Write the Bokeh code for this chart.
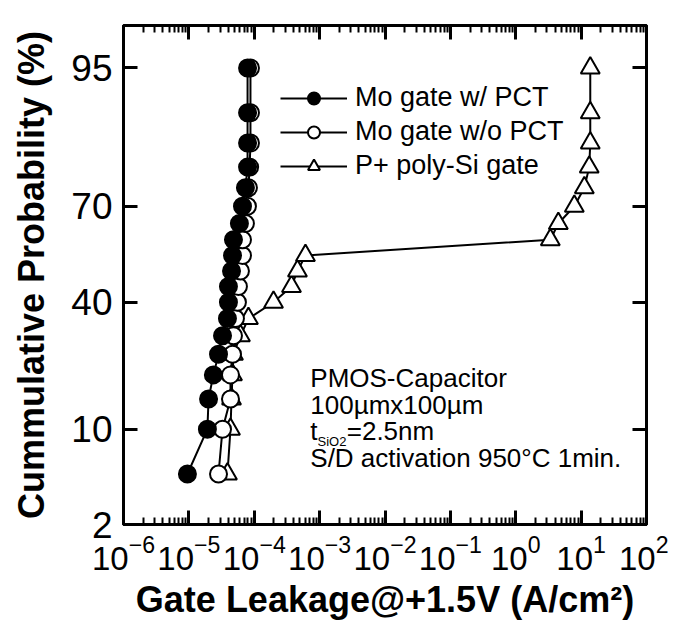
from statistics import NormalDist
from bokeh.plotting import figure
from bokeh.models import (LogAxis, LinearAxis, FixedTicker, Range1d, Legend, LegendItem,
                          Label, CustomJSTickFormatter)
from bokeh.embed import file_html
from bokeh.resources import INLINE

# ---------------- data ----------------
prob = [5, 10, 15, 20, 25, 30, 35, 40, 45, 50, 55, 60, 65, 70, 75, 80, 85, 90, 95]
mo_pct = [9.5e-6, 1.92e-5, 2.0e-5, 2.37e-5, 2.84e-5, 3.27e-5, 3.89e-5, 4.03e-5, 4.03e-5,
          4.49e-5, 4.65e-5, 4.81e-5, 5.93e-5, 6.61e-5, 7.33e-5, 7.9e-5, 7.9e-5, 7.9e-5, 7.9e-5]
mo_nopct = [2.84e-5, 3.27e-5, 4.33e-5, 4.33e-5, 4.65e-5, 4.81e-5, 5.16e-5, 5.53e-5, 5.73e-5,
            6.15e-5, 6.61e-5, 6.61e-5, 7.33e-5, 7.87e-5, 8.15e-5, 8.5e-5, 8.75e-5, 8.75e-5, 8.75e-5]
poly_si = [3.89e-5, 4.33e-5, 4.49e-5, 4.65e-5, 4.81e-5, 6.15e-5, 8.15e-5, 1.97e-4, 3.71e-4,
           4.58e-4, 6.07e-4, 3.38, 4.48, 7.87, 11.2, 13.3, 13.8, 13.8, 13.8]
series_names = ["Mo gate w/ PCT", "Mo gate w/o PCT", "P+ poly-Si gate"]
y_tick_values = [2, 10, 40, 70, 95]
x_decades = [-6, -5, -4, -3, -2, -1, 0, 1, 2]

nd = NormalDist()
def zq(pct):
    return nd.inv_cdf(pct / 100.0)

z = [zq(v) for v in prob]
z_ticks = [zq(v) for v in y_tick_values]
x_major = [10.0 ** d for d in x_decades]
x_minor = [m * 10.0 ** d for d in x_decades[:-1] for m in range(2, 10)]

FONT = "Liberation Sans"

p = figure(width=668, height=622, x_axis_type="log",
           x_range=Range1d(1e-6, 1e2), y_range=Range1d(zq(2), 1.989),
           output_backend="svg", toolbar_location=None,
           min_border_left=123, min_border_right=22, min_border_top=25, min_border_bottom=94)
p.grid.visible = False
p.outline_line_color = "black"
p.outline_line_width = 3
p.background_fill_color = "white"
p.border_fill_color = "white"

xt = FixedTicker(ticks=x_major, minor_ticks=x_minor)
yt = FixedTicker(ticks=z_ticks, minor_ticks=[])
yfmt = CustomJSTickFormatter(args=dict(tv=z_ticks, lab=[str(v) for v in y_tick_values]), code="""
let best = 0, bd = 1e9;
for (let i = 0; i < tv.length; i++) { const d = Math.abs(tv[i] - tick); if (d < bd) { bd = d; best = i; } }
return lab[best];
""")

def style(ax):
    ax.axis_line_width = 3
    ax.major_tick_in = 14
    ax.major_tick_out = 0
    ax.minor_tick_in = 7
    ax.minor_tick_out = 0
    ax.major_tick_line_width = 3
    ax.minor_tick_line_width = 2
    ax.major_label_text_color = "black"
    ax.axis_label_text_color = "black"

xa = p.xaxis[0]
xa.ticker = xt
style(xa)
xa.major_label_text_font = FONT
xa.major_label_text_font_size = "33px"
xa.major_label_standoff = 10
xa.axis_label = "Gate Leakage@+1.5V (A/cm\u00b2)"
xa.axis_label_text_font = FONT
xa.axis_label_text_font_size = "36px"
xa.axis_label_text_font_style = "bold"
xa.axis_label_standoff = 6

ya = p.yaxis[0]
ya.ticker = yt
ya.formatter = yfmt
style(ya)
ya.major_label_text_font = FONT
ya.major_label_text_font_size = "37px"
ya.major_label_standoff = 11
ya.axis_label = "Cummulative Probability (%)"
ya.axis_label_text_font = FONT
ya.axis_label_text_font_size = "36px"
ya.axis_label_text_font_style = "bold"
ya.axis_label_standoff = 16

top = LogAxis(ticker=xt, major_label_text_font_size="1px", major_label_text_alpha=0,
              major_label_standoff=0)
style(top)
p.add_layout(top, "above")
right = LinearAxis(ticker=yt, formatter=yfmt, major_label_text_font_size="1px",
                   major_label_text_alpha=0, major_label_standoff=0)
style(right)
p.add_layout(right, "right")

l1 = p.line(mo_pct, z, line_color="black", line_width=2)
s1 = p.scatter(mo_pct, z, marker="circle", size=17, fill_color="black", line_color="black", line_width=2)
l2 = p.line(mo_nopct, z, line_color="black", line_width=2)
s2 = p.scatter(mo_nopct, z, marker="circle", size=17, fill_color="white", line_color="black", line_width=2)
l3 = p.line(poly_si, z, line_color="black", line_width=2)
s3 = p.scatter(poly_si, z, marker="triangle", size=19, fill_color="white", line_color="black", line_width=2)
p.renderers = [l1, l2, l3, s3, s2, s1]

legend = Legend(items=[LegendItem(label=series_names[0], renderers=[l1, s1]),
                       LegendItem(label=series_names[1], renderers=[l2, s2]),
                       LegendItem(label=series_names[2], renderers=[l3, s3])],
                location=(157, 343), border_line_color=None, background_fill_alpha=0,
                label_text_font=FONT, label_text_font_size="27px", label_text_color="black",
                glyph_width=67, glyph_height=30, label_height=30, spacing=3,
                padding=0, margin=0, label_standoff=8)
p.add_layout(legend, "center")

def lab(x, y, text, size="26px"):
    p.add_layout(Label(x=x, y=y, text=text, text_font=FONT, text_font_size=size,
                       text_color="black", text_baseline="middle", text_align="left"))

lab(7.2e-4, -0.864, "PMOS-Capacitor")
lab(7.2e-4, -1.089, "100\u00b5mx100\u00b5m")
lab(7.2e-4, -1.298, "t")
lab(0.93e-3, -1.385, "SiO2", size="13px")
lab(2.6e-3, -1.298, "=2.5nm")
lab(7.2e-4, -1.515, "S/D activation 950\u00b0C 1min.")

open("out.html", "w").write(file_html(p, INLINE))
